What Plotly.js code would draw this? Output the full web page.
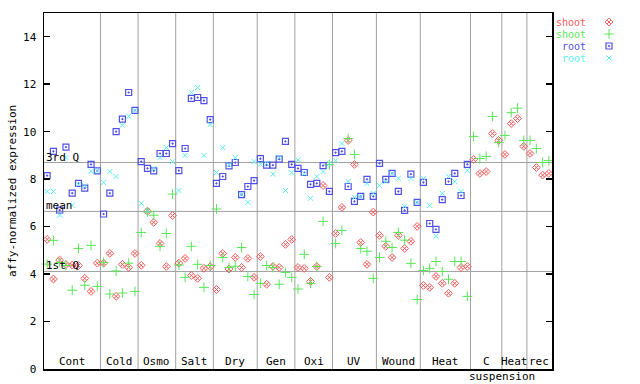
<!DOCTYPE html>
<html><head><meta charset="utf-8">
<script src="https://cdn.plot.ly/plotly-3.0.1.min.js"></script>
<style>html,body{margin:0;padding:0;background:#fff}#chart{width:640px;height:384px}</style>
</head><body><div id="chart"></div>
<script>
// ---- data ----
const groupNames = ['Cont','Cold','Osmo','Salt','Dry','Gen','Oxi','UV','Wound','Heat','C','Heat','rec'];
const groupSizes = [9,6,6,6,7,6,6,7,7,8,5,4,4];

const shootRed = [5.46,3.79,4.59,4.40,4.38,4.36,3.82,3.27,4.46,
  4.46,4.87,3.06,4.41,4.28,4.87,
  4.37,6.65,6.18,5.29,4.32,6.47,
  4.46,4.66,3.94,3.82,4.24,4.31,
  3.35,4.87,4.21,4.70,4.28,4.66,3.86,
  4.74,3.57,4.32,4.28,5.25,5.46,
  4.28,4.24,3.69,4.32,7.73,3.86,
  5.71,6.81,9.63,8.62,5.33,4.41,6.61,
  5.63,5.17,4.70,5.63,5.08,5.38,6.01,
  3.52,3.44,3.90,3.61,3.19,3.61,4.28,4.32,
  8.83,8.24,8.32,9.92,9.63,
  9.04,10.34,10.55,9.38,
  9.08,8.49,8.17,8.24];

const shootGreen = [4.42,5.42,4.49,4.36,3.32,5.08,3.53,5.21,3.48,
  4.49,3.16,4.13,3.20,4.46,3.27,
  5.75,6.62,6.48,5.17,5.71,7.37,
  4.38,3.86,5.17,4.41,3.44,4.36,
  6.74,4.70,4.28,4.33,5.12,3.90,3.14,
  3.61,4.36,4.28,3.57,4.07,3.86,
  3.37,4.83,3.61,4.32,6.22,8.61,
  5.29,5.84,9.71,9.04,5.08,4.96,3.82,
  4.70,5.38,5.12,5.75,5.43,4.45,2.93,
  4.15,4.24,4.53,4.11,3.78,4.53,4.53,3.06,
  9.80,8.87,8.96,10.64,9.54,
  9.84,10.80,10.99,9.63,
  9.63,9.29,8.70,8.78];

const rootBlue = [8.15,9.17,6.69,9.35,7.41,7.82,7.62,8.62,8.35,
  6.53,7.41,10.00,10.53,11.65,10.90,
  8.74,8.45,8.35,9.08,9.08,9.50,
  8.36,9.29,11.40,11.44,11.31,10.51,
  7.82,8.11,8.56,8.70,7.35,7.69,7.94,
  8.86,8.59,8.59,8.84,9.59,8.62,
  8.45,8.28,7.78,7.82,8.57,7.48,
  9.12,9.17,7.69,7.06,7.27,7.99,7.27,
  8.66,7.99,8.24,7.48,6.68,8.21,7.02,
  7.86,6.13,5.88,7.14,7.90,8.24,7.31,8.62];

const rootCyan = [7.48,7.48,6.48,8.91,6.90,7.78,7.72,8.33,8.35,
  7.86,8.32,8.11,10.27,10.65,10.90,
  6.98,6.67,8.45,8.91,9.33,8.74,
  7.52,9.00,11.65,11.86,9.00,10.30,
  8.28,9.33,8.60,8.91,7.35,7.02,8.74,
  8.63,8.66,8.21,8.91,7.52,8.28,
  8.81,8.24,7.19,8.11,8.32,8.66,
  8.78,9.50,7.90,7.23,7.27,7.82,7.40,
  7.73,7.90,8.24,8.03,6.85,8.03,7.02,
  8.03,6.89,5.59,7.40,8.11,7.90,7.48,8.36];

const refValues = [8.70, 6.64, 4.11];
const refLabels = ['3rd Q', 'mean', '1st Q'];
const yTickVals = [0,2,4,6,8,10,12,14];

const seriesNames = ['shoot','shoot','root','root'];
const seriesColors = ['#f55a5a','#5ae65a','#5050e6','#5af0f0'];

// ---- build ----
const FONT = 'DejaVu Sans Mono';
const W = 640, H = 384;
const plotL = 44, plotR = 552, plotT = 13, plotB = 369;
const idx = a => a.map((_, i) => i);
const nTotal = groupSizes.reduce((s, v) => s + v, 0);

const markers = [
  {symbol:'diamond-x-open', size:6, line:{width:1, color:seriesColors[0]}, color:seriesColors[0]},
  {symbol:'cross-thin-open', size:7, line:{width:1, color:seriesColors[1]}, color:seriesColors[1]},
  {symbol:'square-open-dot', size:6, line:{width:1.2, color:seriesColors[2]}, color:seriesColors[2]},
  {symbol:'x-thin-open', size:5, line:{width:1, color:seriesColors[3]}, color:seriesColors[3]}
];
const allSeries = [shootRed, shootGreen, rootBlue, rootCyan];

const traces = allSeries.map((arr, k) => ({
  type:'scatter', mode:'markers', x: idx(arr), y: arr,
  marker: markers[k], showlegend:false, hoverinfo:'skip', cliponaxis:false
}));

// legend keys on an overlay pixel axis
const legRowsY = [22, 34, 46, 58];
traces.push(...markers.map((m, k) => ({
  type:'scatter', mode:'markers', x:[609], y:[legRowsY[k]],
  xaxis:'x2', yaxis:'y2', marker:m, showlegend:false, hoverinfo:'skip'
})));

const shapes = [];
const annotations = [];
// group boundaries
let cum = 0;
groupSizes.forEach((n, g) => {
  const start = cum;
  cum += n;
  if (g < groupSizes.length - 1) {
    shapes.push({type:'line', xref:'x', yref:'paper', x0:cum-0.5, x1:cum-0.5,
      y0:(H-plotB)/H, y1:(H-plotT)/H, line:{color:'#a0a0a0', width:1}, layer:'below'});
  }
  annotations.push({xref:'x', yref:'y', x:(start + cum - 1)/2, y:0, yanchor:'bottom',
    yshift:-1, text:groupNames[g], showarrow:false, font:{family:FONT, size:11, color:'#000'}});
});
annotations.push({xref:'x', yref:'paper', x:72.5, y:8/H, yanchor:'middle',
  text:'suspension', showarrow:false, font:{family:FONT, size:11, color:'#000'}});

refValues.forEach((v, k) => {
  shapes.push({type:'line', xref:'x', yref:'y', x0:-0.5, x1:nTotal-0.5, y0:v, y1:v,
    line:{color:'#a0a0a0', width:1}, layer:'below'});
  annotations.push({xref:'x', yref:'y', x:-0.5, y:v, xanchor:'left', yanchor:'bottom',
    yshift:-3, text:refLabels[k], showarrow:false, font:{family:FONT, size:11, color:'#000'}});
});

// legend texts
seriesNames.forEach((s, k) => {
  annotations.push({xref:'x2', yref:'y2', x:587, y:legRowsY[k], xanchor:'right', yanchor:'middle',
    text:s, showarrow:false, borderpad:0, font:{family:FONT, size:10, color:seriesColors[k]}});
});
// y title
annotations.push({xref:'paper', yref:'paper', x:12/W, y:(H-(plotT+plotB)/2)/H, textangle:-90,
  xanchor:'center', yanchor:'middle', text:'affy-normalized expression', showarrow:false,
  font:{family:FONT, size:11, color:'#000'}});

const layout = {
  width:W, height:H, margin:{l:0, r:0, t:0, b:0},
  paper_bgcolor:'#fff', plot_bgcolor:'rgba(0,0,0,0)',
  font:{family:FONT, size:11, color:'#000'},
  xaxis:{domain:[plotL/W, plotR/W], range:[-0.5, nTotal-0.5], showgrid:false, zeroline:false,
    showticklabels:false, ticks:'', showline:true, mirror:true, linecolor:'#000', linewidth:1.5},
  yaxis:{domain:[(H-plotB)/H, (H-plotT)/H], range:[0,15], tickvals:yTickVals, showgrid:false,
    zeroline:false, ticks:'inside', ticklen:6, tickcolor:'#000', tickwidth:1.5,
    showline:true, mirror:'ticks', linecolor:'#000', linewidth:1.5,
    tickfont:{family:FONT, size:11, color:'#000'}, ticklabelstandoff:4},
  xaxis2:{domain:[0,1], range:[0,W], visible:false, fixedrange:true, anchor:'y2'},
  yaxis2:{domain:[0,1], range:[H,0], visible:false, fixedrange:true, anchor:'x2'},
  shapes, annotations, showlegend:false
};

Plotly.newPlot('chart', traces, layout, {staticPlot:true});
</script></body></html>
